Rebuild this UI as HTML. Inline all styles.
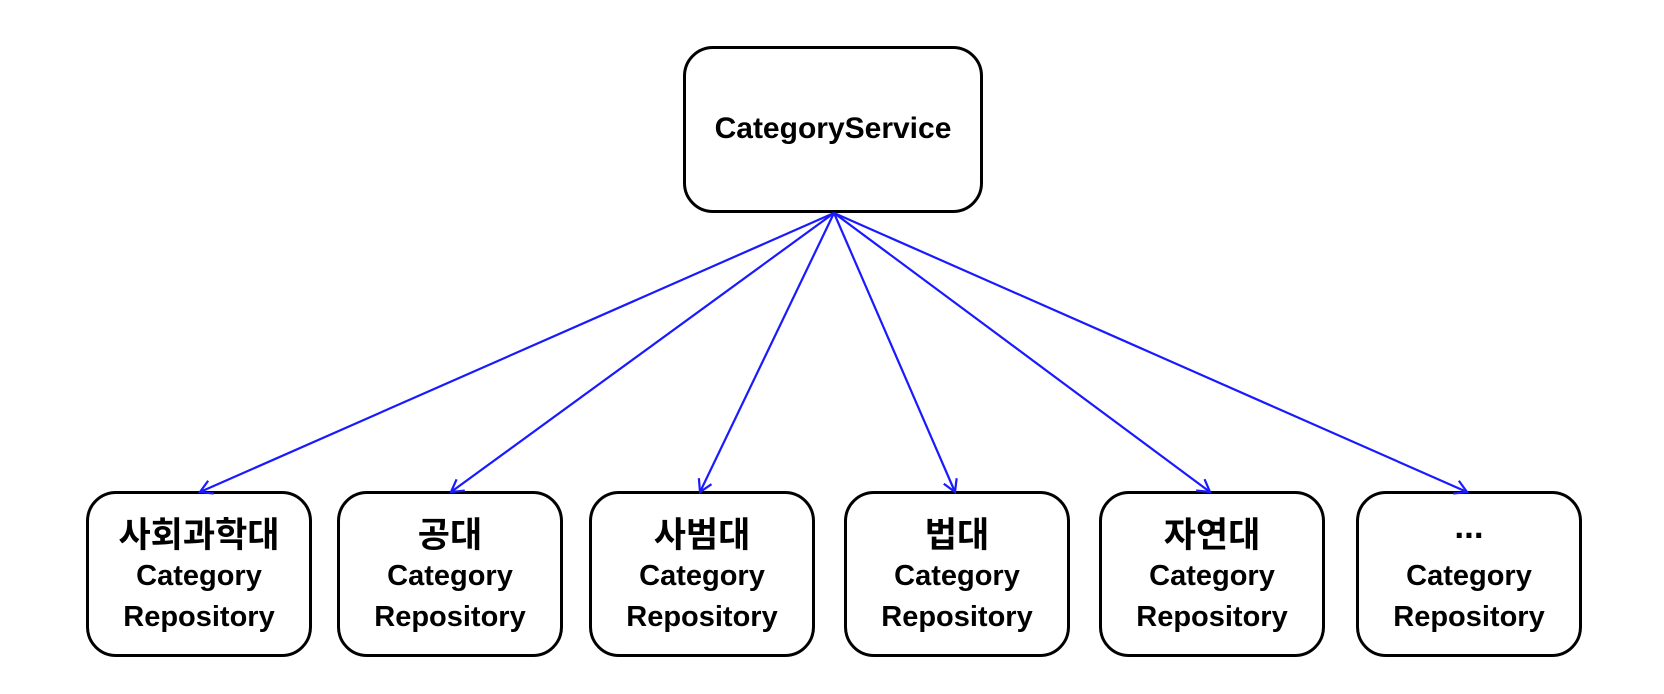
<!DOCTYPE html>
<html><head><meta charset="utf-8"><style>
body{margin:0;background:#fff;width:1664px;height:694px;overflow:hidden;position:relative;font-family:"Liberation Sans","Noto Sans CJK KR",sans-serif;font-weight:bold;color:#000}
.b{position:absolute;border:3px solid #000;border-radius:30px;box-sizing:border-box;background:#fff}
.t{position:absolute;left:0;right:0;text-align:center;white-space:nowrap}
svg{position:absolute;left:0;top:0;z-index:2}
</style></head><body>
<div class="b" style="left:683px;top:46px;width:300px;height:167px"><div class="t" style="top:63px;font-size:30px">CategoryService</div></div>
<div class="b" style="left:86px;top:491px;width:226px;height:166px"><div class="t" style="top:13px;font-size:35px">사회과학대</div><div class="t" style="top:66px;font-size:29px">Category</div><div class="t" style="top:107px;font-size:29px">Repository</div></div>
<div class="b" style="left:337px;top:491px;width:226px;height:166px"><div class="t" style="top:13px;font-size:35px">공대</div><div class="t" style="top:66px;font-size:29px">Category</div><div class="t" style="top:107px;font-size:29px">Repository</div></div>
<div class="b" style="left:589px;top:491px;width:226px;height:166px"><div class="t" style="top:13px;font-size:35px">사범대</div><div class="t" style="top:66px;font-size:29px">Category</div><div class="t" style="top:107px;font-size:29px">Repository</div></div>
<div class="b" style="left:844px;top:491px;width:226px;height:166px"><div class="t" style="top:13px;font-size:35px">법대</div><div class="t" style="top:66px;font-size:29px">Category</div><div class="t" style="top:107px;font-size:29px">Repository</div></div>
<div class="b" style="left:1099px;top:491px;width:226px;height:166px"><div class="t" style="top:13px;font-size:35px">자연대</div><div class="t" style="top:66px;font-size:29px">Category</div><div class="t" style="top:107px;font-size:29px">Repository</div></div>
<div class="b" style="left:1356px;top:491px;width:226px;height:166px"><div class="t" style="top:13px;font-size:35px">...</div><div class="t" style="top:66px;font-size:29px">Category</div><div class="t" style="top:107px;font-size:29px">Repository</div></div>
<svg width="1664" height="694">
<defs><marker id="a" markerWidth="20" markerHeight="20" refX="14" refY="8" orient="auto" markerUnits="userSpaceOnUse">
<polyline points="2,1 14,8 2,15" fill="none" stroke="#1a1aff" stroke-width="2.2"/></marker></defs>
<g stroke="#1a1aff" stroke-width="2.2" fill="none" marker-end="url(#a)">
<line x1="834" y1="213" x2="200" y2="492"/>
<line x1="834" y1="213" x2="451" y2="492"/>
<line x1="834" y1="213" x2="700" y2="492"/>
<line x1="834" y1="213" x2="955" y2="492"/>
<line x1="834" y1="213" x2="1210" y2="492"/>
<line x1="834" y1="213" x2="1467" y2="492"/>
</g></svg>
</body></html>
